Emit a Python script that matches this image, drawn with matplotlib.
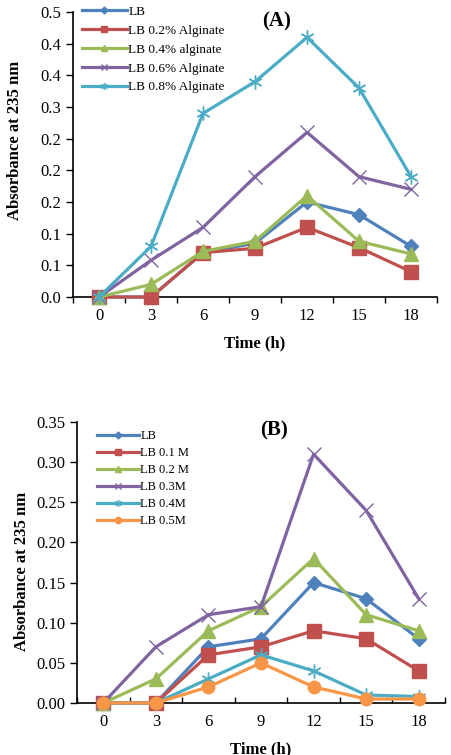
import numpy as np
import matplotlib
matplotlib.use("Agg")
import matplotlib.pyplot as plt
from matplotlib.ticker import FormatStrFormatter

plt.rcParams['font.family'] = ['Liberation Serif', 'DejaVu Serif']

hours = ['0', '3', '6', '9', '12', '15', '18']

# panel A - alginate
a_labels = ['LB', 'LB 0.2% Alginate', 'LB 0.4% alginate', 'LB 0.6% Alginate', 'LB 0.8% Alginate']
a_lb = [0, 0, 0.07, 0.085, 0.15, 0.13, 0.08]
a_02 = [0, 0, 0.07, 0.077, 0.11, 0.078, 0.04]
a_04 = [0, 0.02, 0.072, 0.088, 0.16, 0.088, 0.068]
a_06 = [0, 0.058, 0.11, 0.19, 0.26, 0.19, 0.17]
a_08 = [0, 0.08, 0.29, 0.34, 0.41, 0.33, 0.19]

# panel B - molarity
b_labels = ['LB', 'LB 0.1 M', 'LB 0.2 M', 'LB 0.3M', 'LB 0.4M', 'LB 0.5M']
b_lb = [0, 0, 0.07, 0.08, 0.15, 0.13, 0.08]
b_01 = [0, 0, 0.06, 0.07, 0.09, 0.08, 0.04]
b_02 = [0, 0.03, 0.09, 0.12, 0.18, 0.11, 0.09]
b_03 = [0, 0.07, 0.11, 0.12, 0.31, 0.24, 0.13]
b_04 = [0, 0, 0.03, 0.06, 0.04, 0.01, 0.008]
b_05 = [0, 0, 0.02, 0.05, 0.02, 0.005, 0.005]

colors = ['#4F81BD', '#C0504D', '#9BBB59', '#8064A2', '#4BACC6', '#F79646']
markers = ['D', 's', '^', 'x', (6, 2, 0), 'o']
msizes = [7, 10, 10, 10, 10, 9]

fig = plt.figure(figsize=(4.51, 7.55), dpi=100)
ax1 = fig.add_axes([0.162, 0.6066, 0.807, 0.3775])
ax2 = fig.add_axes([0.1707, 0.0689, 0.816, 0.372])

x = np.arange(len(hours))


def style(ax, ymax, ystep, fmt, xdir, legsize, legspace, ylab_xy):
    ax.set_xlim(-0.5, len(hours) - 0.5)
    ax.set_ylim(0, ymax)
    ax.set_yticks(np.arange(0, ymax + 1e-9, ystep))
    ax.yaxis.set_major_formatter(FormatStrFormatter(fmt))
    ax.set_xticks(x)
    ax.set_xticklabels(hours)
    ax.set_xticks(np.arange(-0.5, len(hours)), minor=True)
    ax.tick_params(axis='x', which='major', length=0, labelsize=12, pad=8)
    ax.tick_params(axis='x', which='minor', length=4, direction=xdir, width=1)
    ax.tick_params(axis='y', length=5, direction='out', labelsize=12, width=1)
    for s in ['top', 'right']:
        ax.spines[s].set_visible(False)
    for s in ['left', 'bottom']:
        ax.spines[s].set_linewidth(1.2)
    ax.set_ylabel('Absorbance at 235 nm', fontsize=12, fontweight='bold')
    ax.yaxis.set_label_coords(*ylab_xy)
    ax.set_xlabel('Time (h)', fontsize=12, fontweight='bold', labelpad=8)
    leg = ax.legend(loc='upper left', bbox_to_anchor=(0.01, 1.04), frameon=False,
                    fontsize=legsize, handlelength=3.4, handletextpad=0.1,
                    labelspacing=legspace, markerscale=0.5, borderaxespad=0)
    return leg


series_a = [a_lb, a_02, a_04, a_06, a_08]
for i, ys in enumerate(series_a):
    ax1.plot(x, ys, color=colors[i], marker=markers[i], markersize=msizes[i],
             lw=2.3, label=a_labels[i], clip_on=False, zorder=3 + i)
style(ax1, 0.45, 0.05, '%.1f', 'out', 9.5, 0.5, (-0.137, 0.55))
ax1.text(0.56, 0.965, '(A)', transform=ax1.transAxes, fontsize=15,
         fontweight='bold', ha='center', va='center')

series_b = [b_lb, b_01, b_02, b_03, b_04, b_05]
for i, ys in enumerate(series_b):
    ax2.plot(x, ys, color=colors[i], marker=markers[i], markersize=msizes[i],
             lw=2.3, label=b_labels[i], clip_on=False, zorder=3 + i)
style(ax2, 0.35, 0.05, '%.2f', 'in', 9, 0.4, (-0.127, 0.47))
ax2.legend_.set_bbox_to_anchor((0.04, 0.99))
ax2.text(0.535, 0.97, '(B)', transform=ax2.transAxes, fontsize=15,
         fontweight='bold', ha='center', va='center')

fig.savefig('out.png', dpi=100)
